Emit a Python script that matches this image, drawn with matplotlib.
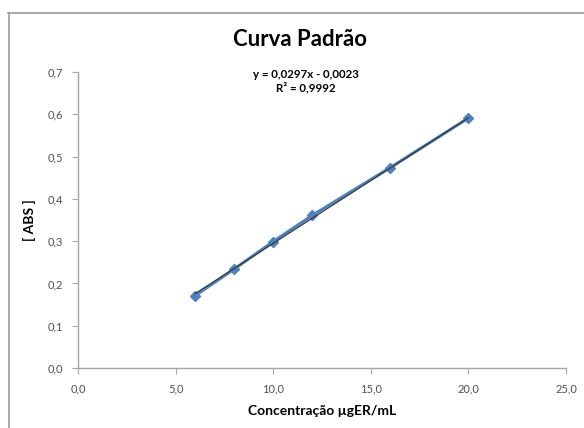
import numpy as np
import matplotlib
matplotlib.use("Agg")
import matplotlib.pyplot as plt
from matplotlib.lines import Line2D
from matplotlib.ticker import FuncFormatter

plt.rcParams['font.family'] = ['Lato', 'DejaVu Sans']

# dados da curva padrão
conc = [6, 8, 10, 12, 16, 20]
absorb = [0.171, 0.234, 0.299, 0.361, 0.474, 0.591]
slope = 0.0297
intercept = -0.0023
r2 = 0.9992
xticks = [0, 5, 10, 15, 20, 25]
yticks = [0.0, 0.1, 0.2, 0.3, 0.4, 0.5, 0.6, 0.7]

fig = plt.figure(figsize=(5.84, 4.28), dpi=100)
ax = fig.add_axes([78/584, 60/428, 488/584, 296/428])

ax.plot(conc, absorb, color='#4F81BD', lw=2.2, marker='D', ms=5,
        mfc='#4F81BD', mec='#4F81BD', zorder=3)
xs = np.array([conc[0], conc[-1]])
ax.plot(xs, slope * xs + intercept, color='#3a3a3a', lw=0.9, zorder=4)

ax.set_xlim(0, 25)
ax.set_ylim(0, 0.7)
ax.set_xticks(xticks)
ax.set_yticks(yticks)
fmt = FuncFormatter(lambda v, p: f'{v:.1f}'.replace('.', ','))
ax.xaxis.set_major_formatter(fmt)
ax.yaxis.set_major_formatter(fmt)
for s in ['top', 'right']:
    ax.spines[s].set_visible(False)
for s in ['left', 'bottom']:
    ax.spines[s].set_color('#a6a6a6')
    ax.spines[s].set_linewidth(1.0)
ax.tick_params(colors='#a6a6a6', length=4, labelcolor='#505050', labelsize=8)
ax.tick_params(axis='x', pad=7)
ax.tick_params(axis='y', pad=7)

ax.set_xlabel('Concentração µgER/mL', fontsize=10, fontweight='bold', labelpad=8)
ax.set_ylabel('[ ABS ]', fontsize=10, fontweight='bold', labelpad=8)

fig.text(300/584, 1 - 40/428, 'Curva Padrão', fontsize=16, fontweight='bold',
         ha='center', va='center')
fig.text(306/584, 1 - 75/428, f'y = {slope:.4f}x - {abs(intercept):.4f}'.replace('.', ','),
         fontsize=8.3, fontweight='bold', ha='center', va='center')
fig.text(306/584, 1 - 88/428, f'R² = {r2:.4f}'.replace('.', ','),
         fontsize=8.3, fontweight='bold', ha='center', va='center')

# moldura do gráfico
fig.add_artist(Line2D([8/584, 1], [1 - 13/428, 1 - 13/428], color='#9a9a9a', lw=1.2))
fig.add_artist(Line2D([9/584, 9/584], [1 - 13/428, 0], color='#9a9a9a', lw=1.2))

fig.savefig('out.png', dpi=100)
